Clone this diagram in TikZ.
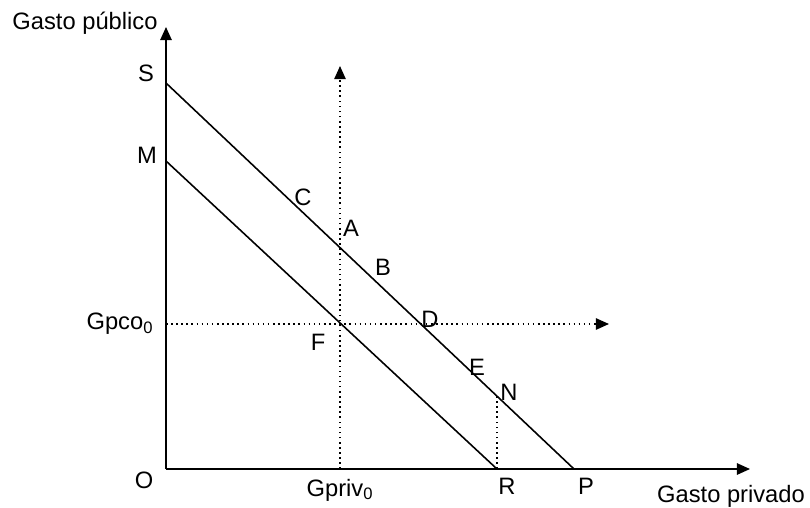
\documentclass[tikz,border=0pt]{standalone}
\usepackage{fontspec}
\setmainfont{Liberation Sans}
\usetikzlibrary{arrows.meta}

\begin{document}
\begin{tikzpicture}[x=0.02cm, y=-0.02cm,
    axis/.style={line width=1pt, -{Triangle[length=7.5pt, width=6.5pt]}},
    guide/.style={dotted, line width=0.9pt},
    budget/.style={line width=0.9pt},
    lbl/.style={inner sep=0pt, font=\fontsize{13.5}{15}\selectfont}]
    \useasboundingbox (0,0) rectangle (810,507);

    % Key points
    \coordinate (O) at (166,469);
    \coordinate (Ytop) at (166,27);
    \coordinate (Xend) at (750,469);
    \coordinate (S) at (166,83);
    \coordinate (M) at (166,161);
    \coordinate (P) at (574,469);
    \coordinate (R) at (497,469);
    \coordinate (Gx) at (340,469);
    \coordinate (Gxtop) at (340,66);
    \coordinate (Gy) at (166,324);
    \coordinate (Gyend) at (609,324);
    \coordinate (N) at (497,396);

    % Axes
    \draw[axis] (O) -- (Ytop);
    \draw[axis] (O) -- (Xend);

    % Budget lines
    \draw[budget] (S) -- (P);
    \draw[budget] (M) -- (R);

    % Dotted guides
    \draw[guide, -{Triangle[length=7.5pt, width=6.5pt]}] (Gx) -- (Gxtop);
    \draw[guide, -{Triangle[length=7.5pt, width=6.5pt]}] (Gy) -- (Gyend);
    \draw[guide] (R) -- (N);

    % Labels
    \node[lbl] (ylab) at (85,23) {Gasto público};
    \node[lbl] (xlab) at (731,496) {Gasto privado};
    \node[lbl] (lS) at (146,73) {S};
    \node[lbl] (lM) at (147,155) {M};
    \node[lbl] (lO) at (144,480) {O};
    \node[lbl] (lC) at (303,197) {C};
    \node[lbl] (lA) at (351,228) {A};
    \node[lbl] (lB) at (383,267) {B};
    \node[lbl] (lD) at (430,319) {D};
    \node[lbl] (lF) at (318,342) {F};
    \node[lbl] (lE) at (477,367) {E};
    \node[lbl] (lN) at (509,392) {N};
    \node[lbl] (lR) at (507,486) {R};
    \node[lbl] (lP) at (586,486) {P};
    \node[lbl] (lGpco) at (120,324) {Gpco\textsubscript{0}};
    \node[lbl] (lGpriv) at (340,490) {Gpriv\textsubscript{0}};

\end{tikzpicture}
\end{document}
